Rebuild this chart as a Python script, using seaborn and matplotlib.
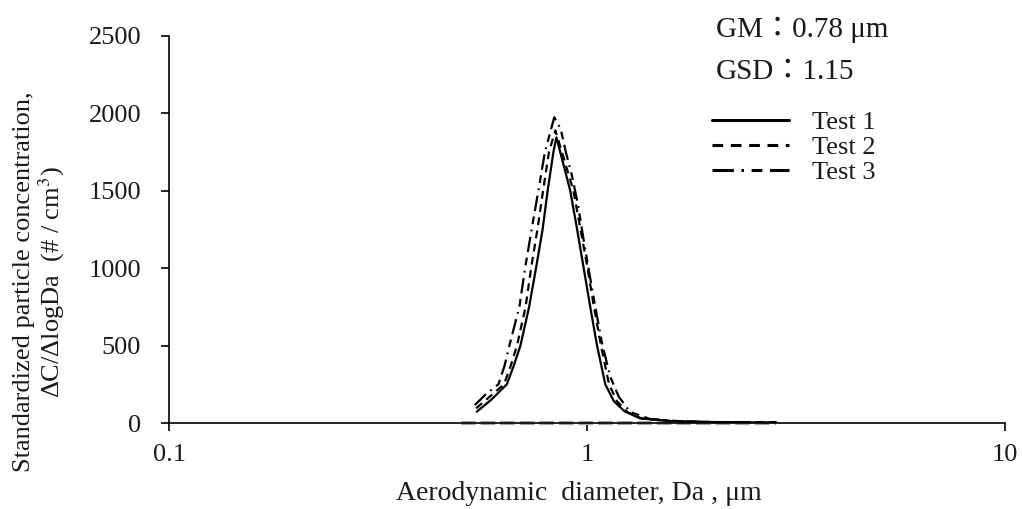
import numpy as np
import pandas as pd
import matplotlib
matplotlib.use("Agg")
import matplotlib.pyplot as plt
import seaborn as sns
from matplotlib.lines import Line2D

# ---- data ----
t1_x = [0.545, 0.590, 0.643, 0.668, 0.693, 0.727, 0.755, 0.783, 0.805, 0.831, 0.845, 0.863,
        0.912, 0.947, 0.982, 1.018, 1.057, 1.106, 1.160, 1.230, 1.339, 1.60, 2.00, 2.40, 2.84]
t1_y = [73, 150, 250, 370, 500, 750, 1000, 1250, 1500, 1750, 1845, 1750,
        1500, 1250, 1000, 750, 500, 250, 140, 75, 30, 12, 6, 4, 3]

t2_x = [0.543, 0.585, 0.633, 0.657, 0.680, 0.713, 0.735, 0.761, 0.785, 0.811, 0.840, 0.871,
        0.928, 0.965, 1.003, 1.039, 1.080, 1.129, 1.180, 1.250, 1.350, 1.60, 2.00, 2.40, 2.84]
t2_y = [95, 170, 250, 370, 500, 750, 1000, 1250, 1500, 1750, 1890, 1750,
        1500, 1250, 1000, 750, 500, 250, 140, 70, 30, 12, 6, 4, 3]

t3_x = [0.539, 0.575, 0.614, 0.635, 0.652, 0.689, 0.711, 0.737, 0.765, 0.793, 0.835, 0.865,
        0.890, 0.920, 0.950, 0.985, 1.028, 1.086, 1.137, 1.191, 1.268, 1.415, 1.70, 2.10, 2.50, 2.84]
t3_y = [116, 190, 250, 370, 500, 750, 1000, 1250, 1500, 1750, 1975, 1900,
        1750, 1600, 1420, 1158, 868, 515, 298, 170, 71, 26, 10, 5, 4, 3]

bg_x = [0.50, 0.60, 0.80, 1.00, 1.50, 2.00, 2.84]
bg_y = [0, 0, 0, 0, 0, 0, 0]

labels = ["Test 1", "Test 2", "Test 3"]
y_ticks = [0, 500, 1000, 1500, 2000, 2500]
x_ticks = [0.1, 1, 10]
x_ticklabels = ["0.1", "1", "10"]

# ---- style ----
sns.set_style("ticks")
plt.rcParams['font.family'] = ['Liberation Serif', 'Noto Sans CJK JP', 'DejaVu Sans']
plt.rcParams['mathtext.fontset'] = 'stix'
TXT = "#1a1a1a"

fig = plt.figure(figsize=(10.22, 5.09), dpi=100)
ax = fig.add_axes([169 / 1022, 86 / 509, 836 / 1022, 387 / 509])

df_bg = pd.DataFrame({"x": bg_x, "y": bg_y})
sns.lineplot(data=df_bg, x="x", y="y", ax=ax, color="#a6a6a6", lw=3.0,
             linestyle=(0, (3.5, 1.2)), clip_on=False, zorder=2)

styles = ["-", (0, (3.5, 2.5)), (0, (7, 2.5, 0.8, 2.5, 3.5, 2.5))]
series = [(t1_x, t1_y), (t2_x, t2_y), (t3_x, t3_y)]
for (xs, ys), lab, ls in zip(series, labels, styles):
    d = pd.DataFrame({"x": xs, "y": ys})
    sns.lineplot(data=d, x="x", y="y", ax=ax, color="black", lw=1.6,
                 linestyle=ls, zorder=3)

ax.set_xscale("log")
ax.set_xlim(0.1, 10)
ax.set_ylim(0, 2500)
ax.set_xticks(x_ticks)
ax.set_xticklabels(x_ticklabels)
ax.minorticks_off()
ax.set_yticks(y_ticks)
ax.tick_params(axis="both", labelsize=19, direction="out", length=6, width=1.2,
               color="black", labelcolor=TXT)
ax.tick_params(axis="y", pad=14)
ax.tick_params(axis="x", pad=9)
for s in ["top", "right"]:
    ax.spines[s].set_visible(False)
for s in ["left", "bottom"]:
    ax.spines[s].set_linewidth(1.2)
    ax.spines[s].set_color("black")

ax.set_xlabel("")
ax.set_ylabel("")
fig.text(579 / 1022, 1 - 493 / 509, "Aerodynamic  diameter, Da , μm", fontsize=20,
         color=TXT, ha="center", va="center")
fig.text(40 / 1022, 1 - 282 / 509,
         "Standardized particle concentration,\nΔC/ΔlogDa  (# / cm$^3$)",
         fontsize=19, color=TXT, ha="center", va="center", rotation=90,
         multialignment="center", linespacing=1.05)

fig.text(716 / 1022, 1 - 30 / 509, "GM：0.78 μm", fontsize=21, color=TXT, va="center", ha="left")
fig.text(716 / 1022, 1 - 72 / 509, "GSD：1.15", fontsize=21, color=TXT, va="center", ha="left")

handles = [Line2D([], [], color="black", lw=2.2, linestyle=ls) for ls in styles]
leg = fig.legend(handles, labels, loc="upper left", bbox_to_anchor=(712 / 1022, 1 - 111 / 509),
                 frameon=False, fontsize=19, handlelength=2.9, handletextpad=0.9,
                 labelspacing=0.05, borderaxespad=0, borderpad=0)
for t in leg.get_texts():
    t.set_color(TXT)

fig.savefig("out.png", dpi=100)
